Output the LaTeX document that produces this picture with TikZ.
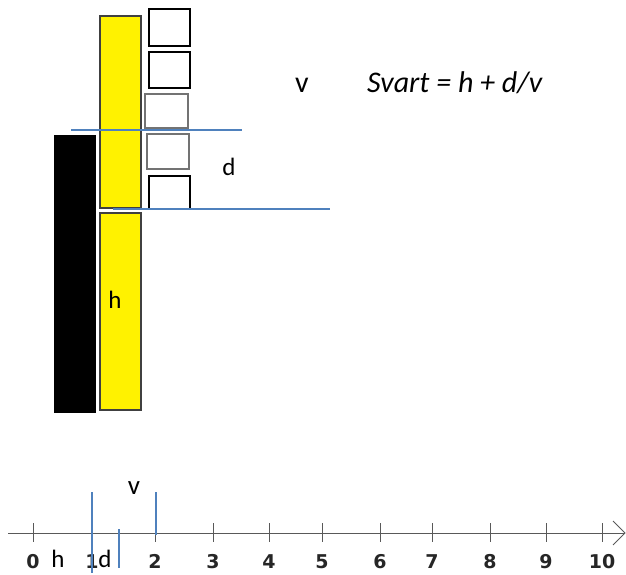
\documentclass[tikz,border=0pt]{standalone}
\usepackage{fontspec}
\setmainfont{Carlito}
\newfontfamily\numfont{DejaVu Sans}
\definecolor{lineblue}{RGB}{79,129,189}
\begin{document}
\begin{tikzpicture}[x=1pt,y=-1pt,
  ybar/.style={draw=black!75,line width=1.5pt,fill=yellow},
  sbox/.style={draw=black,line width=1.7pt,fill=white},
  gbox/.style={draw=black!55,line width=2pt,fill=white},
  bline/.style={draw=lineblue,line width=1.2pt},
  axis/.style={draw=black!65,line width=1pt},
  lbl/.style={font=\fontsize{25}{28}\selectfont,inner sep=0pt,anchor=base},
  big/.style={font=\fontsize{30}{34}\selectfont,inner sep=0pt,anchor=base},
  num/.style={font=\numfont\bfseries\fontsize{19}{21}\selectfont,text=black!85,inner sep=0pt,anchor=base}]
\useasboundingbox (0,0) rectangle (626,575);
% black bar
\fill[black] (54,135) rectangle (96,413);
% yellow bars
\draw[ybar] (100,16) rectangle (141,208);
\draw[ybar] (100,213) rectangle (141,410);
% small boxes
\draw[sbox] (149,9) rectangle (190,46);
\draw[sbox] (149,52) rectangle (190,88);
\draw[gbox] (145,94) rectangle (188,128);
\draw[gbox] (147,134) rectangle (189,169);
\draw[sbox] (149,176) rectangle (190,209);
% blue lines
\coordinate (l1a) at (71,130); \coordinate (l1b) at (242,130);
\coordinate (l2a) at (113,209); \coordinate (l2b) at (330,209);
\draw[bline] (l1a) -- (l1b);
\draw[bline] (l2a) -- (l2b);
% labels
\node[lbl] (d) at (229,175) {d};
\node[lbl] (h) at (115,308) {h};
\node[big] (v) at (302,93) {v};
\node[big,anchor=base west] (f) at (367,93) {\itshape Svart = h + d/v};
% number line
\coordinate (ax0) at (8,533); \coordinate (ax1) at (625,533);
\draw[axis] (ax0) -- (ax1);
\draw[axis] (613,521) -- (625,533) -- (613,545);
\foreach \x/\n in {33/0,92/1,155/2,213/3,269/4,322/5,380/6,432/7,490/8,546/9,602/10}{
  \draw[axis] (\x,523) -- (\x,542);
  \node[num] (n\n) at (\x,568) {\n};
}
% blue marks on number line
\draw[bline] (92,492) -- (92,573);
\draw[bline] (156,492) -- (156,535);
\draw[bline] (119,529) -- (119,568);
\node[lbl,font=\fontsize{27}{30}\selectfont] (v2) at (134,494) {v};
\node[lbl] (h2) at (58,567) {h};
\node[lbl] (d2) at (105,567) {d};
\end{tikzpicture}
\end{document}
